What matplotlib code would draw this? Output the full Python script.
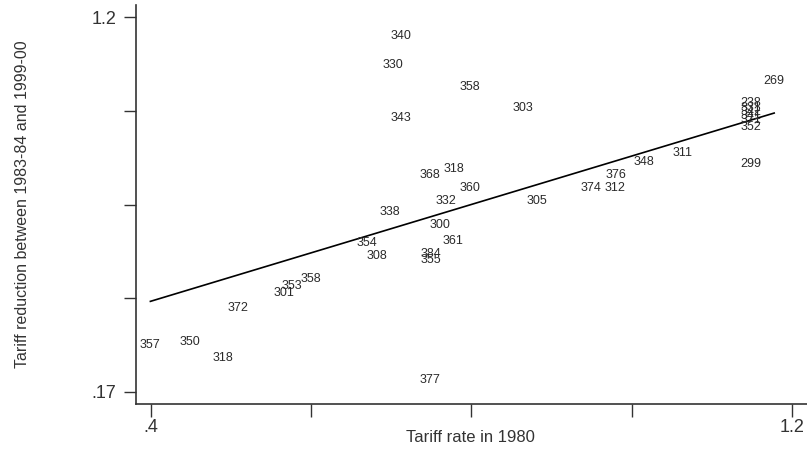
import numpy as np
import matplotlib.pyplot as plt

# industry codes, tariff in 1980 (x) and tariff reduction 1983-84 -> 1999-00 (y)
codes = ["340", "330", "358", "303", "343", "318", "368", "360", "332", "305",
         "338", "300", "361", "354", "308", "384", "355", "311", "348", "376",
         "374", "312", "299", "269", "238", "331", "342", "341", "371", "352",
         "357", "350", "318", "372", "301", "353", "358", "377"]
tariff_1980 = [0.712, 0.702, 0.798, 0.864, 0.712, 0.778, 0.748, 0.798, 0.768, 0.882,
               0.698, 0.761, 0.777, 0.670, 0.682, 0.749, 0.749, 1.064, 1.015, 0.980,
               0.949, 0.979, 1.149, 1.178, 1.149, 1.149, 1.149, 1.149, 1.149, 1.149,
               0.399, 0.449, 0.489, 0.509, 0.566, 0.576, 0.600, 0.748]
tariff_cut = [1.148, 1.068, 1.008, 0.950, 0.923, 0.782, 0.766, 0.730, 0.695, 0.695,
              0.664, 0.629, 0.585, 0.579, 0.543, 0.549, 0.533, 0.826, 0.802, 0.766,
              0.730, 0.730, 0.796, 1.024, 0.964, 0.950, 0.939, 0.928, 0.917, 0.898,
              0.299, 0.307, 0.263, 0.401, 0.442, 0.461, 0.480, 0.203]

# fitted line as drawn in the figure
fit_intercept = 0.154
fit_slope = 0.664

xticks = [0.4, 0.6, 0.8, 1.0, 1.2]
xticklabels = [".4", "", "", "", "1.2"]
yticks = [0.17, 0.4275, 0.685, 0.9425, 1.2]
yticklabels = [".17", "", "", "", "1.2"]

plt.rcParams["font.family"] = ["Liberation Sans", "DejaVu Sans"]

fig = plt.figure(figsize=(8.07, 4.5), dpi=100)
ax = fig.add_axes([0.1685, 0.1022, 0.8315, 0.8867])

x = np.array(tariff_1980)
y = np.array(tariff_cut)
for c, xi, yi in zip(codes, x, y):
    ax.text(xi, yi, c, ha="center", va="center", fontsize=9, color="#2a2a2a")

xs = np.array([x.min(), x.max()])
ax.plot(xs, fit_intercept + fit_slope * xs, color="black", lw=1.2)

ax.set_xlim(0.381, 1.219)
ax.set_ylim(0.137, 1.233)
ax.set_xticks(xticks)
ax.set_xticklabels(xticklabels)
ax.set_yticks(yticks)
ax.set_yticklabels(yticklabels)
ax.tick_params(direction="out", length=9, width=1, colors="#333333",
               labelsize=13)
ax.tick_params(axis="y", pad=5)
ax.tick_params(axis="x", pad=2)
for s in ["top", "right"]:
    ax.spines[s].set_visible(False)
for s in ["left", "bottom"]:
    ax.spines[s].set_color("#333333")
    ax.spines[s].set_linewidth(1.2)

ax.set_xlabel("Tariff rate in 1980", fontsize=12, color="#333333")
ax.xaxis.set_label_coords(0.498, -0.066)
ax.set_ylabel("Tariff reduction between 1983-84 and 1999-00", fontsize=11.5,
              color="#333333")
ax.yaxis.set_label_coords(-0.158, 0.5)

fig.savefig("out.png", dpi=100)
